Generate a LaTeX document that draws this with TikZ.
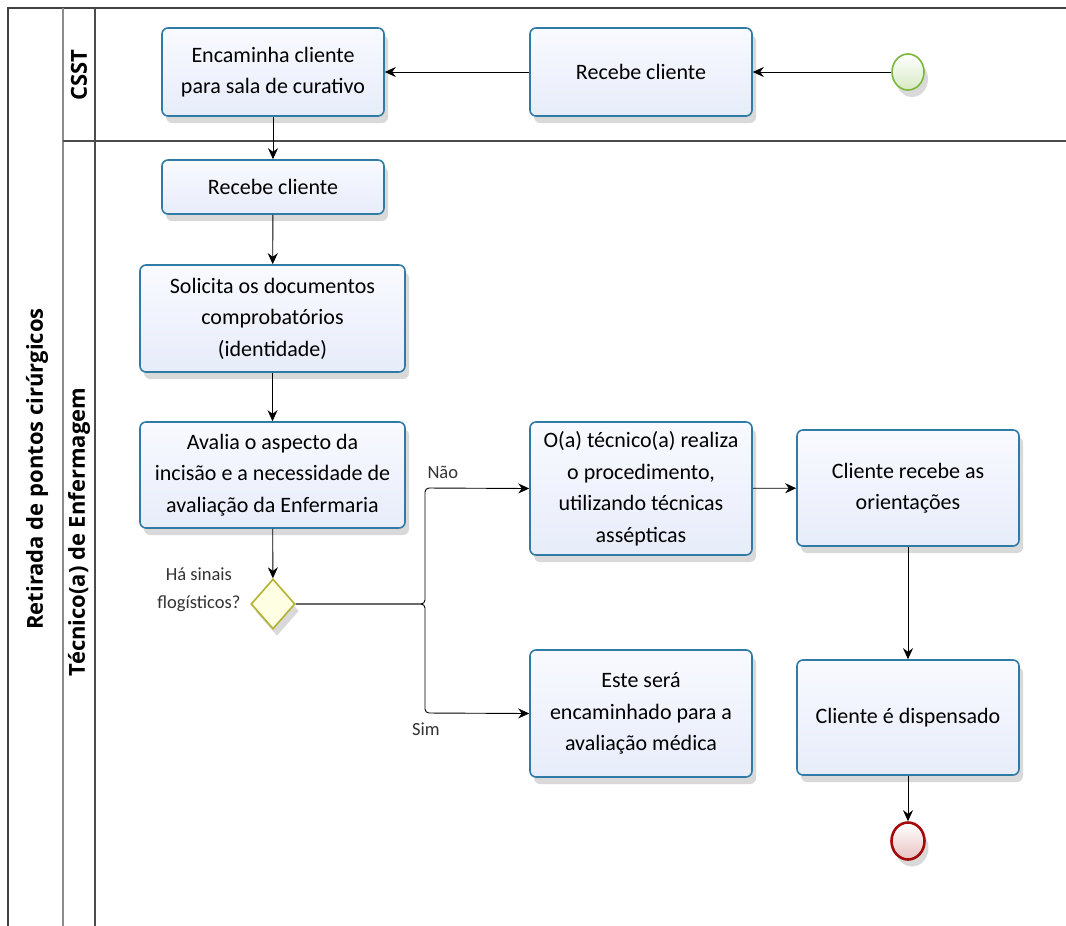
\documentclass[tikz,border=0pt]{standalone}
\usepackage{fontspec}
\setmainfont{Carlito}
\newfontfamily\titlefont{Open Sans}
\usetikzlibrary{arrows.meta,shapes.geometric,shadows}
\definecolor{taskline}{HTML}{2F7BA6}
\definecolor{tasktop}{HTML}{F9FAFF}
\definecolor{taskbot}{HTML}{E7ECFA}
\definecolor{startline}{HTML}{7AB83A}
\definecolor{endline}{HTML}{A50A0A}
\definecolor{gwline}{HTML}{B2B232}
\definecolor{gwfill}{HTML}{FEFEE2}
\tikzset{
  x=1pt, y=-1pt,
  boxshadow/.style={drop shadow={shadow xshift=4pt, shadow yshift=-7pt, fill=black, opacity=0.15}},
  task/.style={rectangle, rounded corners=6pt, draw=taskline, line width=1.6pt,
    top color=tasktop, bottom color=taskbot, align=center,
    font=\fontsize{22}{31.5}\selectfont, inner sep=2pt, boxshadow},
  startev/.style={ellipse, draw=startline, line width=1.6pt, inner sep=0pt,
    minimum width=32pt, minimum height=36pt, top color=white, bottom color=startline!30, boxshadow},
  endev/.style={ellipse, draw=endline, line width=2.6pt, inner sep=0pt,
    minimum width=33pt, minimum height=37pt, top color=white, bottom color=endline!25, boxshadow},
  gateway/.style={diamond, draw=gwline, line width=1.6pt, inner sep=0pt,
    minimum width=44pt, minimum height=50pt, fill=gwfill, boxshadow},
  flow/.style={draw=black, line width=0.9pt, -{Stealth[length=11pt,width=10pt]}},
  gwflow/.style={flow, rounded corners=4pt},
  lbl/.style={font=\fontsize{18.5}{28}\selectfont, align=center, text=black!80},
  lanetitle/.style={font=\titlefont\bfseries\fontsize{22}{26}\selectfont, rotate=90},
}
\begin{document}
\begin{tikzpicture}
\useasboundingbox (0,0) rectangle (1066,926);
\fill[white] (0,0) rectangle (1066,926);

% pool and lanes
\draw[black!75, line width=1.4pt] (8,926) -- (8,8) -- (1066,8);
\draw[black!45, line width=1.2pt] (63,8) -- (63,926);
\draw[black!70, line width=1.2pt] (95,8) -- (95,926);
\draw[black!70, line width=1.2pt] (63,141) -- (1066,141);
\node[lanetitle] (pool) at (37,469) {Retirada de pontos cirúrgicos};
\node[lanetitle] (lane1) at (79,75) {CSST};
\node[lanetitle] (lane2) at (79,532) {Técnico(a) de Enfermagem};

% CSST lane
\node[startev] (start) at (908,72) {};
\node[task, minimum width=222pt, minimum height=88pt] (rec1) at (641,72) {Recebe cliente};
\node[task, minimum width=222pt, minimum height=88pt] (enc) at (273,72) {Encaminha cliente\\para sala de curativo};

% nursing lane
\node[task, minimum width=222pt, minimum height=54pt] (rec2) at (273,187) {Recebe cliente};
\node[task, minimum width=265pt, minimum height=107pt] (sol) at (272.5,318.5) {Solicita os documentos\\comprobatórios\\(identidade)};
\node[task, minimum width=265pt, minimum height=106pt] (ava) at (272.5,475) {Avalia o aspecto da\\incisão e a necessidade de\\avaliação da Enfermaria};
\node[gateway] (gw) at (273,604) {};
\node[lbl, anchor=east] (gwlbl) at (244,590) {Há sinais\\flogísticos?};
\node[task, minimum width=222pt, minimum height=133pt] (proc) at (641,488.5) {O(a) técnico(a) realiza\\o procedimento,\\utilizando técnicas\\assépticas};
\node[task, minimum width=222pt, minimum height=127pt] (med) at (641,713.5) {Este será\\encaminhado para a\\avaliação médica};
\node[task, minimum width=222pt, minimum height=116pt] (ori) at (908,488) {Cliente recebe as\\orientações};
\node[task, minimum width=222pt, minimum height=115pt] (disp) at (908,717.5) {Cliente é dispensado};
\node[endev] (end) at (908,841) {};

% sequence flows
\draw[flow] (start) -- (rec1);
\draw[flow] (rec1) -- (enc);
\draw[flow] (enc) -- (rec2);
\draw[flow] (rec2) -- (sol);
\draw[flow] (sol) -- (ava);
\draw[flow] (ava) -- (gw);
\draw[gwflow] (gw.east) -- (425,604) -- (425,488) -- (proc.west);
\draw[gwflow] (gw.east) -- (425,604) -- (425,713) -- (med.west);
\node[lbl, anchor=south west] (nao) at (424,482) {Não};
\node[lbl, anchor=north] (sim) at (426,719) {Sim};
\draw[flow] (proc) -- (ori);
\draw[flow] (ori) -- (disp);
\draw[flow] (disp) -- (end);
\end{tikzpicture}
\end{document}
